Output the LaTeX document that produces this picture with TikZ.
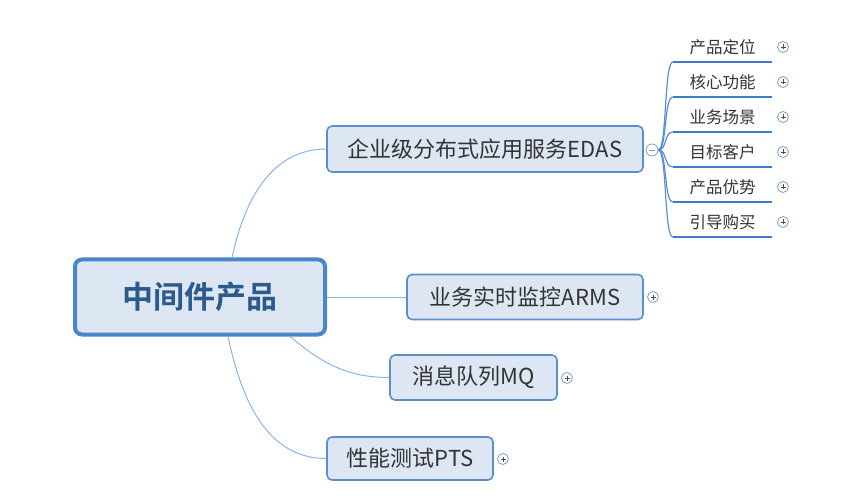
\documentclass[tikz,border=0pt]{standalone}
\usepackage{fontspec}
\setmainfont{Noto Sans CJK SC}
\newfontfamily\cjkbold{Noto Sans CJK SC Bold}
\definecolor{boxfill}{HTML}{DDE7F3}
\definecolor{boxline}{HTML}{5B8FCB}
\definecolor{rootline}{HTML}{4A86C8}
\definecolor{roottext}{HTML}{2C5A8C}
\definecolor{conn}{HTML}{8DB3E0}
\definecolor{subconn}{HTML}{5A8ED0}
\definecolor{uline}{HTML}{3D7CC9}
\definecolor{txt}{HTML}{333333}
\definecolor{plusc}{HTML}{7F9FC7}
\begin{document}
\begin{tikzpicture}[x=1pt,y=-1pt,
  rootbox/.style={draw=rootline,line width=4pt,fill=boxfill,rounded corners=7pt,inner sep=0pt,
    font=\cjkbold\fontsize{31}{34}\selectfont,text=roottext},
  topicbox/.style={draw=boxline,line width=1.6pt,fill=boxfill,rounded corners=5pt,inner sep=0pt,
    font=\fontsize{22}{26}\selectfont,text=txt},
  subitem/.style={inner sep=0pt,minimum width=99pt,minimum height=30pt,anchor=south,
    font=\fontsize{16.5}{18}\selectfont,text=txt},
  plusbtn/.style={circle,draw=plusc,line width=0.8pt,fill=white,minimum size=11pt,inner sep=0pt,
    path picture={\draw[line width=0.8pt,black!70]
      ([xshift=-2.5pt]path picture bounding box.center) -- ([xshift=2.5pt]path picture bounding box.center)
      ([yshift=-2.5pt]path picture bounding box.center) -- ([yshift=2.5pt]path picture bounding box.center);}},
  minusbtn/.style={circle,draw=plusc,line width=0.8pt,fill=white,minimum size=12pt,inner sep=0pt,
    path picture={\draw[line width=0.8pt,plusc]
      ([xshift=-3pt]path picture bounding box.center) -- ([xshift=3pt]path picture bounding box.center);}},
  thin/.style={draw=conn,line width=1pt},
  subline/.style={draw=subconn,line width=1.2pt},
  underl/.style={draw=uline,line width=2.6pt}
]
\useasboundingbox (0,0) rectangle (865,497);

% nodes
\node[rootbox,minimum width=250pt,minimum height=75pt] (root) at (200,297) {中间件产品};
\node[topicbox,minimum width=316pt,minimum height=46pt] (edas) at (485,149) {企业级分布式应用服务EDAS};
\node[topicbox,minimum width=236pt,minimum height=45pt] (arms) at (525,297) {业务实时监控ARMS};
\node[topicbox,minimum width=167pt,minimum height=45pt] (mq) at (473.5,377.5) {消息队列MQ};
\node[topicbox,minimum width=166pt,minimum height=43pt] (pts) at (410,458.5) {性能测试PTS};

% root connectors
\coordinate (r1) at ([xshift=32pt]root.north);
\coordinate (r3) at ([xshift=90pt]root.south);
\coordinate (r4) at ([xshift=28pt]root.south);
\draw[thin] (r1) to[out=78,in=180] (edas.west);
\draw[thin] (root.east) -- (arms.west);
\draw[thin] (r3) to[out=-40,in=180] (mq.west);
\draw[thin] (r4) to[out=-78,in=180] (pts.west);

% collapse button
\node[minusbtn] (minus) at (652,150) {};

% sub items
\foreach \i/\y/\t in {1/62/产品定位,2/97/核心功能,3/132/业务场景,4/167/目标客户,5/202/产品优势,6/237/引导购买}{
  \node[subitem] (s\i) at (722.5,\y) {\t};
  \draw[subline] (minus.east) .. controls (667,150) and (664,\y) .. (s\i.south west);
  \draw[underl] (s\i.south west) -- (s\i.south east);
  \node[plusbtn] (p\i) at (783,\y-15) {};
}

% plus buttons of topics
\node[plusbtn] (pa) at (653,297) {};
\node[plusbtn] (pm) at (567,378) {};
\node[plusbtn] (pp) at (503,459) {};
\end{tikzpicture}
\end{document}
